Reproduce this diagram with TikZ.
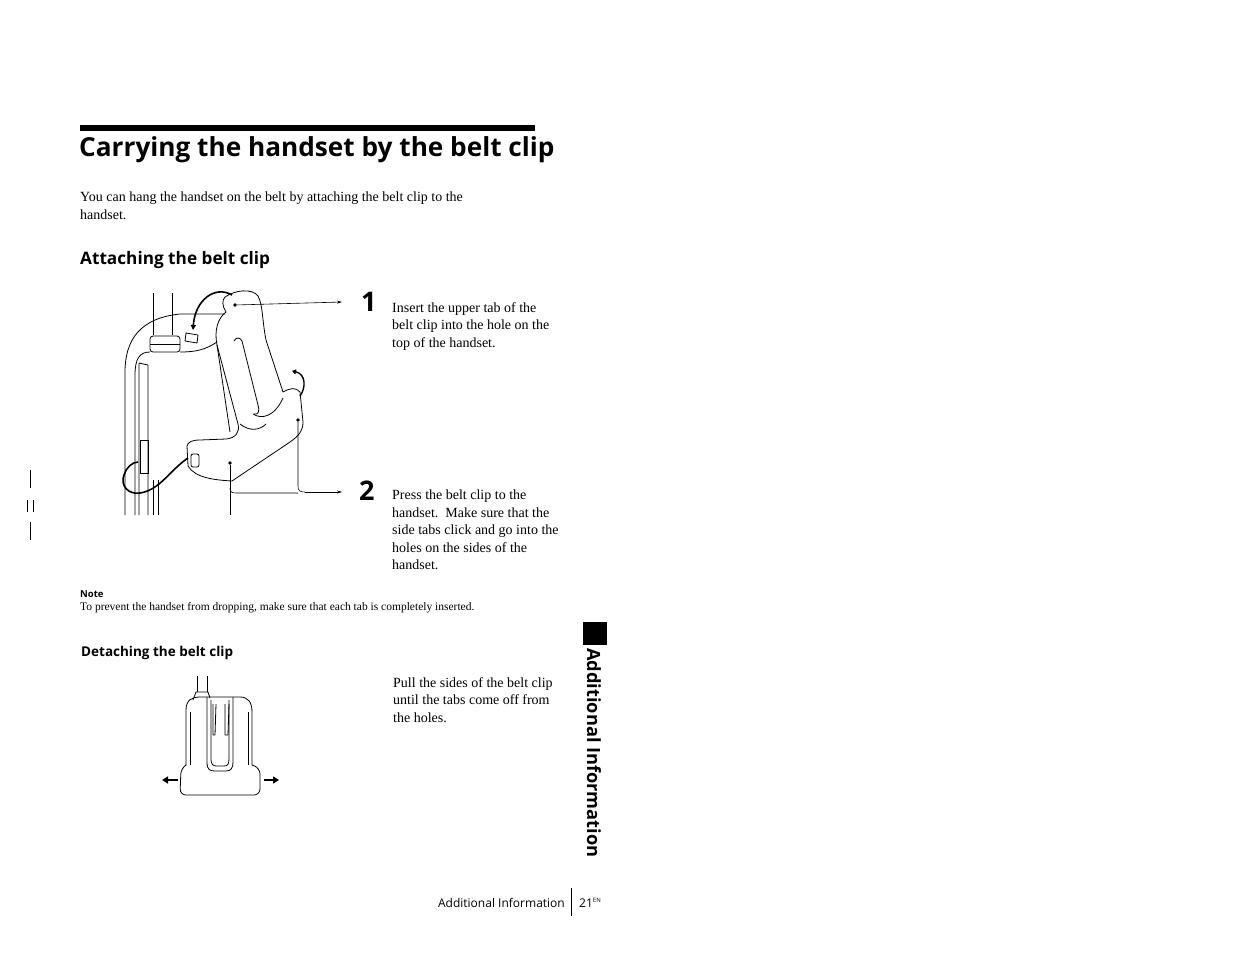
\documentclass[tikz,border=0pt]{standalone}
\usepackage{fontspec}
\setmainfont{Liberation Serif}
\setsansfont{Open Sans}
\usetikzlibrary{arrows.meta}
\begin{document}
\begin{tikzpicture}[x=1pt,y=-1pt,
  body/.style={font=\fontsize{14}{17.5}\selectfont,anchor=north west,align=left,inner sep=0pt},
  ln/.style={line width=0.8pt,line join=round},
  lead/.style={line width=0.6pt,-{Stealth[length=5pt,width=3pt]}},
  dotn/.style={circle,fill,inner sep=1.3pt}]
\useasboundingbox[fill=white] (0,0) rectangle (1255,954);
% header
\fill (80,125) rectangle (535,131);
\node[anchor=base west,inner sep=0pt,font=\sffamily\bfseries\fontsize{26.2}{30}\selectfont] (title) at (79,156) {Carrying the handset by the belt clip};
\node[body] (intro) at (80,192) {You can hang the handset on the belt by attaching the belt clip to the\\handset.};
\node[anchor=base west,inner sep=0pt,font=\sffamily\bfseries\fontsize{17.2}{19}\selectfont] (h1) at (80,264) {Attaching the belt clip};
% step numbers
\node[anchor=base west,inner sep=0pt,font=\sffamily\bfseries\fontsize{27}{30}\selectfont] (n1) at (361,311) {1};
\node[anchor=base west,inner sep=0pt,font=\sffamily\bfseries\fontsize{27}{30}\selectfont] (n2) at (359,500) {2};
\node[body] (t1) at (392,302) {Insert the upper tab of the\\belt clip into the hole on the\\top of the handset.};
\node[body] (t2) at (392,490) {Press the belt clip to the\\handset.\ \ Make sure that the\\side tabs click and go into the\\holes on the sides of the\\handset.};
% note
\node[anchor=base west,inner sep=0pt,font=\sffamily\bfseries\fontsize{9.5}{11}\selectfont] (note) at (80,597) {Note};
\node[anchor=base west,inner sep=0pt,font=\fontsize{11.5}{13}\selectfont] (notet) at (80,610) {To prevent the handset from dropping, make sure that each tab is completely inserted.};
\node[anchor=base west,inner sep=0pt,font=\sffamily\fontsize{13.5}{15}\selectfont\bfseries] (h2) at (81,656) {Detaching the belt clip};
\node[body] (t3) at (393,677) {Pull the sides of the belt clip\\until the tabs come off from\\the holes.};
% side tab
\fill (583,622) rectangle (607,645);
\node[rotate=-90,anchor=west,inner sep=0pt,font=\sffamily\bfseries\fontsize{18.2}{20}\selectfont] (side) at (594,648) {Additional Information};
% footer
\node[anchor=base east,inner sep=0pt,font=\sffamily\fontsize{12}{14}\selectfont] (foot) at (565,907) {Additional Information};
\draw[line width=1pt] (571,888) -- (571,916);
\node[anchor=base west,inner sep=0pt,font=\sffamily\fontsize{12}{14}\selectfont] (pg) at (579,907) {21\textsuperscript{\fontsize{6}{7}\selectfont EN}};
% left margin mark
\draw[line width=0.8pt] (30,470) -- (30,488) (27,500) -- (27,512) (33,500) -- (33,512) (30,522) -- (30,540);
% ---- illustration 1 ----
\begin{scope}[ln]
\draw (153,293) -- (153,335) (172,293) -- (172,335);
\draw[rounded corners=3pt] (150,336) rectangle (180,352);
\draw (150,344) -- (180,344);
\draw (125,515) -- (125,372) .. controls (125,340) and (140,318) .. (180,314) -- (225,314);
\draw (135,515) -- (135,375) .. controls (135,358) and (140,352) .. (150,352);
\draw (180,352) .. controls (195,352) and (205,350) .. (217,342);
\draw (139,363) -- (139,515) (148,365) -- (148,515) (139,363) -- (148,365);
\draw (140,440) rectangle (148,473);
\draw (186,333) -- (198,335) -- (197,343) -- (185,341) -- cycle;
\draw (153,515) -- (153,480) (158,515) -- (158,480);
\draw (225,297) .. controls (235,290) and (252,288) .. (258,296)
   .. controls (263,305) and (262,320) .. (266,340) -- (283,392)
   .. controls (290,388) and (296,387) .. (300,392) -- (303,422)
   .. controls (303,430) and (300,435) .. (290,442) -- (232,481)
   .. controls (215,480) and (195,478) .. (188,466) -- (187,446)
   .. controls (188,442) and (192,440) .. (200,440) -- (226,439)
   .. controls (236,438) and (240,432) .. (238,424) -- (217,345)
   .. controls (214,330) and (218,318) .. (226,312)
   .. controls (222,306) and (222,300) .. (225,297);
\draw (234,341) .. controls (236,337) and (240,337) .. (242,341) -- (258,405) .. controls (260,412) and (258,415) .. (254,414);
\draw (253,414) .. controls (262,420) and (275,416) .. (283,398);
\draw (240,424) .. controls (250,432) and (260,430) .. (266,424);
\draw (217,345) -- (230,432);
\draw[rounded corners=2pt] (191,454) rectangle (199,467);
\draw[line width=1.6pt] (188,458) .. controls (170,470) and (160,490) .. (140,493) .. controls (128,495) and (120,485) .. (124,475) .. controls (126,468) and (132,462) .. (138,462);
\end{scope}
\draw[line width=1.6pt,-{Triangle[length=5pt,width=5pt]}] (232,295) .. controls (215,285) and (195,300) .. (193,330);
\draw[line width=1.4pt,-{Triangle[length=4pt,width=5pt]}] (300,396) .. controls (306,388) and (306,374) .. (292,371);
\node[dotn] (d1) at (235,305) {};
\node[dotn] (d2) at (298,420) {};
\node[dotn] (d3) at (230,463) {};
\coordinate (e1) at (342,302);
\coordinate (e2) at (342,492);
\draw[lead] (d1) -- (e1);
\draw[line width=0.6pt] (d2) -- (298,486) .. controls (298,491) and (300,492) .. (305,492);
\draw[lead] (305,492) -- (e2);
\draw[line width=0.6pt] (d3) -- (230,515);
\draw[line width=0.6pt] (230,488) .. controls (230,492) and (232,493) .. (236,493) -- (298,493);
% ---- illustration 2 ----
\begin{scope}[ln]
\draw (197,676) -- (197,692) (207,676) -- (207,692);
\draw (193,700) -- (196,692) -- (208,692) -- (210,698);
\draw (186,765) -- (186,710) .. controls (186,700) and (192,697) .. (200,697) -- (240,697) .. controls (248,697) and (252,702) .. (252,712) -- (252,765);
\draw (190,765) -- (190,712) (248,765) -- (248,712);
\draw (207,697) -- (207,762) .. controls (207,770) and (210,771) .. (215,771) -- (226,771) .. controls (231,771) and (233,768) .. (233,762) -- (233,697);
\draw (211,700) -- (211,758) .. controls (211,765) and (213,766) .. (217,766) -- (224,766) .. controls (228,766) and (229,764) .. (229,758) -- (229,700);
\draw (213,704) -- (213,735) -- (215,735) -- (216,704) (225,704) -- (225,735) -- (228,735) -- (229,704);
\draw[rounded corners=6pt] (186,765) -- (181,768) -- (180,795) -- (260,795) -- (260,768) -- (252,765);
\end{scope}
\coordinate (la) at (162,780);
\coordinate (ra) at (279,780);
\draw[line width=2.5pt,-{Triangle[length=6pt,width=7pt]}] (178,780) -- (la);
\draw[line width=2.5pt,-{Triangle[length=6pt,width=7pt]}] (264,780) -- (ra);
\end{tikzpicture}
\end{document}
